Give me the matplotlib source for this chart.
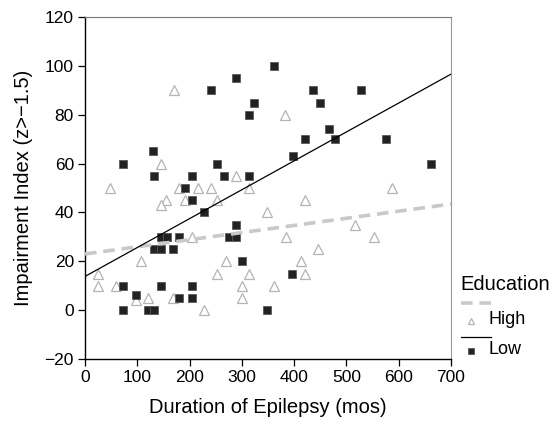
import matplotlib
matplotlib.use("Agg")
import matplotlib.pyplot as plt
from matplotlib.lines import Line2D
import numpy as np

plt.rcParams["font.family"] = ["Liberation Sans", "DejaVu Sans"]

# Duration of epilepsy (months) vs impairment index, split by education
high_x = [170, 383, 145, 289, 48, 180, 216, 241, 313, 588, 155, 192, 252, 420, 145,
          348, 517, 204, 385, 552, 445, 108, 270, 414, 24, 252, 313, 420, 24, 59,
          300, 361, 97, 120, 168, 300, 227]
high_y = [90, 80, 60, 55, 50, 50, 50, 50, 50, 50, 45, 45, 45, 45, 43,
          40, 35, 30, 30, 30, 25, 20, 20, 20, 15, 15, 15, 15, 10, 10,
          10, 10, 4, 5, 5, 5, 0]

low_x = [361, 289, 241, 437, 527, 324, 450, 313, 466, 420, 478, 575, 130, 397, 73,
         252, 661, 132, 204, 265, 313, 192, 204, 227, 289, 145, 156, 180, 275, 289,
         132, 145, 169, 300, 73, 145, 204, 97, 180, 204, 396, 73, 121, 132, 348]
low_y = [100, 95, 90, 90, 90, 85, 85, 80, 74, 70, 70, 70, 65, 63, 60,
         60, 60, 55, 55, 55, 55, 50, 45, 40, 35, 30, 30, 30, 30, 30,
         25, 25, 25, 20, 10, 10, 10, 6, 5, 5, 15, 0, 0, 0, 0]

# linear fits (intercept, slope)
high_fit = (23.0, 0.0292)
low_fit = (13.8, 0.1183)

x_ticks = [0, 100, 200, 300, 400, 500, 600, 700]
y_ticks = [-20, 0, 20, 40, 60, 80, 100, 120]

TRI = dict(marker="^", ls="none", ms=6.5, mfc="white", mec="#b4b4b4", mew=0.9)
SQ = dict(marker="s", ls="none", ms=5.2, mfc="#222222", mec="#5a5a5a", mew=0.6)
DASH = dict(color="#c9c9c9", lw=2.6, dashes=(3.2, 1.9))
SOLID = dict(color="black", lw=0.9)

W, H = 556, 424
fig = plt.figure(figsize=(W / 100, H / 100), dpi=100)
ax = fig.add_axes([85 / W, 1 - 359 / H, 366 / W, 342 / H])

ax.plot(high_x, high_y, **TRI, zorder=2)
ax.plot(low_x, low_y, **SQ, zorder=3)

xs = np.array([0, 700])
ax.plot(xs, high_fit[0] + high_fit[1] * xs, **DASH, zorder=4)
ax.plot(xs, low_fit[0] + low_fit[1] * xs, **SOLID, zorder=4)

ax.set_xlim(0, 700)
ax.set_ylim(-20, 120)
ax.set_xticks(x_ticks)
ax.set_yticks(y_ticks)
ax.set_yticklabels([str(v).replace("-", "\u2212") for v in y_ticks])
ax.tick_params(direction="out", length=5, width=0.9, pad=3, labelsize=12.5, colors="black")
for s in ("left", "bottom"):
    ax.spines[s].set_color("black")
    ax.spines[s].set_linewidth(1.0)
ax.spines["top"].set_color("#777777")
ax.spines["right"].set_color("#999999")
ax.set_xlabel("Duration of Epilepsy (mos)", fontsize=14.5, labelpad=9)
ax.set_ylabel("Impairment Index (z>\u22121.5)", fontsize=14.5, labelpad=8)

# legend beside the axes, SPSS style: fit line above each marker row
def fx(px):
    return px / W

def fy(py):
    return 1 - py / H

fig.text(fx(460), fy(284), "Education", fontsize=14.5, va="center", ha="left")
fig.add_artist(Line2D([fx(461), fx(491)], [fy(303), fy(303)], **DASH))
fig.add_artist(Line2D([fx(471)], [fy(321)], **{**TRI, "ms": 5}))
fig.text(fx(488), fy(320), "High", fontsize=13, va="center", ha="left")
fig.add_artist(Line2D([fx(461), fx(491)], [fy(337), fy(337)], **SOLID))
fig.add_artist(Line2D([fx(471)], [fy(351)], **{**SQ, "ms": 4}))
fig.text(fx(488), fy(350), "Low", fontsize=13, va="center", ha="left")

fig.savefig("out.png", dpi=100)
